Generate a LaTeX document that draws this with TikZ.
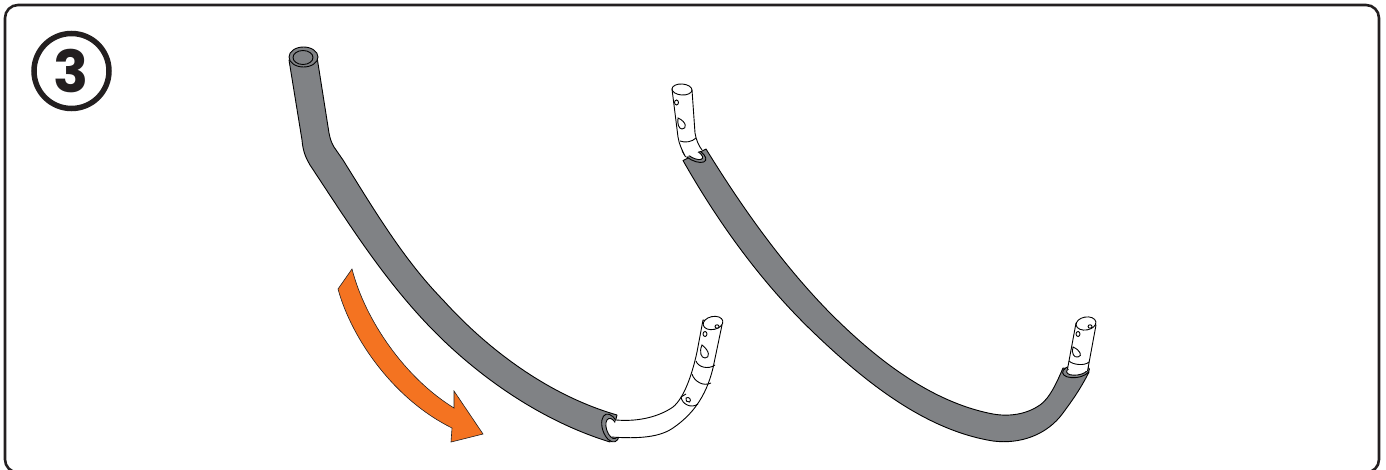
\documentclass[tikz,border=0pt]{standalone}
\usepackage{fontspec}
\setmainfont{Poppins}[BoldFont={Poppins Bold}]
\definecolor{tubegray}{HTML}{808285}
\definecolor{ink}{HTML}{231F20}
\definecolor{arroworange}{HTML}{F47321}
\tikzset{
  tube/.style={draw=black,fill=tubegray,line width=0.9pt,line join=round},
  pipe/.style={draw=black,fill=white,line width=0.9pt,line join=round},
  fine/.style={draw=black,line width=0.9pt},
  hole/.style={draw=black,fill=white,line width=0.9pt},
}
\begin{document}
\begin{tikzpicture}[x=1pt,y=-1pt]
\useasboundingbox (0,0) rectangle (1386,470);
% frame
\draw[ink,line width=2.6pt,rounded corners=13pt] (5,472.5) -- (5,5) -- (1379,5) -- (1379,472.5) -- cycle;
% step badge
\node[circle,draw=ink,line width=5.5pt,minimum size=75pt,inner sep=0pt,text=ink,font=\bfseries\fontsize{58}{58}\selectfont] (badge) at (71.5,71) {3};

% arrow
\draw[fill=arroworange,draw=ink,line width=0.6pt,line join=miter]
  (352,269) .. controls (365,320) and (405,378) .. (454,408)
  -- (454,391) -- (483,434) -- (451,442) -- (452,428)
  .. controls (395,400) and (352,340) .. (338,289) -- cycle;

% first assembly: gray sleeve
\draw[tube] (289,60) -- (302,140)
  .. controls (303,152) and (306,158) .. (310,165)
  .. controls (351,227) and (389,288) .. (443,340)
  .. controls (490,385) and (548,423) .. (610,442)
  -- (617,415)
  .. controls (551,396) and (490,352) .. (443,300)
  .. controls (403,259) and (373,208) .. (343,160)
  -- (334,147)
  .. controls (331,142) and (330,138) .. (329,133)
  -- (317,57) -- cycle;
\draw[tube] (303.5,57) ellipse [x radius=14.5,y radius=10];
\draw[tube] (303,57.5) ellipse [x radius=10,y radius=7];
% first assembly: collar and white pipe
\draw[tube] (610.5,428) ellipse [x radius=14.5,y radius=8,rotate=-72];
\draw[pipe] (612,428.5) ellipse [x radius=10.5,y radius=5.5,rotate=-72];
\draw[pipe] (616,420) .. controls (640,422) and (660,416) .. (673,407)
  .. controls (684,398) and (692,375) .. (697,352) -- (703,320)
  -- (722,325) -- (713,368)
  .. controls (706,397) and (692,415) .. (673,428)
  .. controls (660,437) and (640,439) .. (611,437);
\draw[pipe] (713,323) ellipse [x radius=10,y radius=6.5,rotate=12];
\draw[fine] (696,361) .. controls (698,367) and (708,370) .. (715,365);
\draw[fine] (692,374) .. controls (694,381) and (703,387) .. (711,383);
\draw[fine] (681,397) .. controls (682,404) and (691,409) .. (698,404);
\draw[fine] (681,397) -- (686,394);
\draw[hole] (686,398) .. controls (689,396) and (692,400) .. (689.5,402) .. controls (687,403) and (685,400) .. (686,398) -- cycle;
\draw[hole] (702,345) .. controls (699,352) and (701,358) .. (705,358) .. controls (710,358) and (710,351) .. (702,345) -- cycle;
\draw[hole] (705,334) ellipse [x radius=2,y radius=2.5];
\draw[hole] (717,326.5) ellipse [x radius=2,y radius=1.7];

% second assembly: gray sleeve
\draw[tube] (683,160.5)
  .. controls (719,224) and (762,283) .. (813,332)
  .. controls (863,380) and (924,430) .. (993,441)
  .. controls (1020,444.5) and (1047,435) .. (1063,413)
  .. controls (1071,402) and (1080,390) .. (1089,372)
  -- (1063,368)
  .. controls (1057,382) and (1050,398) .. (1040,405)
  .. controls (1027,414) and (1010,417) .. (993,414)
  .. controls (930,402) and (875,358) .. (830,313)
  .. controls (783,265) and (743,209) .. (706,149)
  -- cycle;
% top pipe
\draw[tube] (694,154.5) ellipse [x radius=13,y radius=6,rotate=-27];
\draw[pipe] (694,154) ellipse [x radius=9.5,y radius=4,rotate=-27];
\draw[pipe] (685.5,157) .. controls (682,150) and (679,144) .. (678,137) -- (672,89) -- (692,90) -- (695,133) .. controls (696,140) and (699,146) .. (702,150);
\draw[pipe] (682,89.5) ellipse [x radius=10,y radius=5.5,rotate=-4];
\draw[fine] (680,141) .. controls (685,143) and (692,142) .. (696,138);
\draw[hole] (676.5,102.5) ellipse [x radius=2,y radius=2.5];
\draw[hole] (678,118) .. controls (677,124) and (679,129) .. (682,129) .. controls (687,129) and (687,122) .. (678,118) -- cycle;
% end pipe
\draw[tube] (1076,371) ellipse [x radius=13.5,y radius=6.5,rotate=8];
\draw[pipe] (1077,370.5) ellipse [x radius=10.5,y radius=4.5,rotate=8];
\draw[pipe] (1067.5,369) -- (1076,323) -- (1096,325) -- (1087.5,371);
\draw[pipe] (1086,323.5) ellipse [x radius=10,y radius=6.5,rotate=10];
\draw[fine] (1069,361) .. controls (1073,365) and (1085,366) .. (1089,362);
\draw[hole] (1078,334) ellipse [x radius=2,y radius=2.5];
\draw[hole] (1090,326.5) ellipse [x radius=2,y radius=1.7];
\draw[hole] (1073,347) .. controls (1071,353) and (1074,358) .. (1078,357) .. controls (1083,356) and (1080,350) .. (1073,347) -- cycle;
\end{tikzpicture}
\end{document}
